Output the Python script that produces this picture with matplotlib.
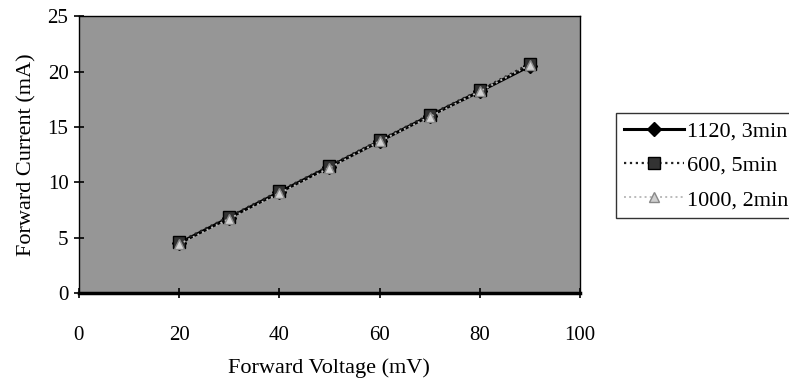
import numpy as np
import matplotlib
matplotlib.use("Agg")
import matplotlib.pyplot as plt

# datos
voltaje = [20, 30, 40, 50, 60, 70, 80, 90]
i_1120 = [4.5, 6.8, 9.1, 11.4, 13.7, 16.0, 18.2, 20.5]
i_600 = [4.6, 6.9, 9.2, 11.5, 13.8, 16.1, 18.3, 20.7]
i_1000 = [4.4, 6.7, 9.0, 11.3, 13.7, 15.9, 18.2, 20.6]
etiquetas = ["1120, 3min", "600, 5min", "1000, 2min"]

plt.rcParams['font.family'] = ['Liberation Serif', 'DejaVu Serif']

fig = plt.figure(figsize=(7.89, 3.85), dpi=100)
ax = fig.add_axes([0.100, 0.239, 0.635, 0.719])
ax.set_facecolor('#969696')

ax.plot(voltaje, i_1120, '-', color='black', lw=2.2, marker='D', ms=7,
        mfc='black', mec='black', label=etiquetas[0])
ax.plot(voltaje, i_600, ':', color='#222222', lw=1.6, marker='s', ms=9,
        mfc='#333333', mec='black', label=etiquetas[1])
ax.plot(voltaje, i_1000, ':', color='#bbbbbb', lw=1.4, marker='^', ms=7,
        mfc='#cfcfcf', mec='#888888', label=etiquetas[2])

ax.set_xlim(0, 100)
ax.set_ylim(0, 25)
ax.set_xticks(np.arange(0, 101, 20))
ax.set_yticks(np.arange(0, 26, 5))
ax.tick_params(direction='inout', length=7, width=1.2, labelsize=15, pad=4)
ax.tick_params(axis='x', pad=20)
for s in ax.spines.values():
    s.set_linewidth(1.0)
ax.spines['bottom'].set_linewidth(2.5)

ax.set_xlabel('Forward Voltage (mV)', fontsize=16, labelpad=10)
ax.set_ylabel('Forward Current (mA)', fontsize=16, labelpad=8)

leg = fig.legend(loc='upper left', bbox_to_anchor=(0.781, 0.706), fontsize=16,
                 frameon=True, fancybox=False, edgecolor='black',
                 handlelength=2.7, handletextpad=0.15, borderpad=0.35,
                 labelspacing=0.62, borderaxespad=0)
leg.get_frame().set_linewidth(1.0)

fig.savefig('out.png', dpi=100)
